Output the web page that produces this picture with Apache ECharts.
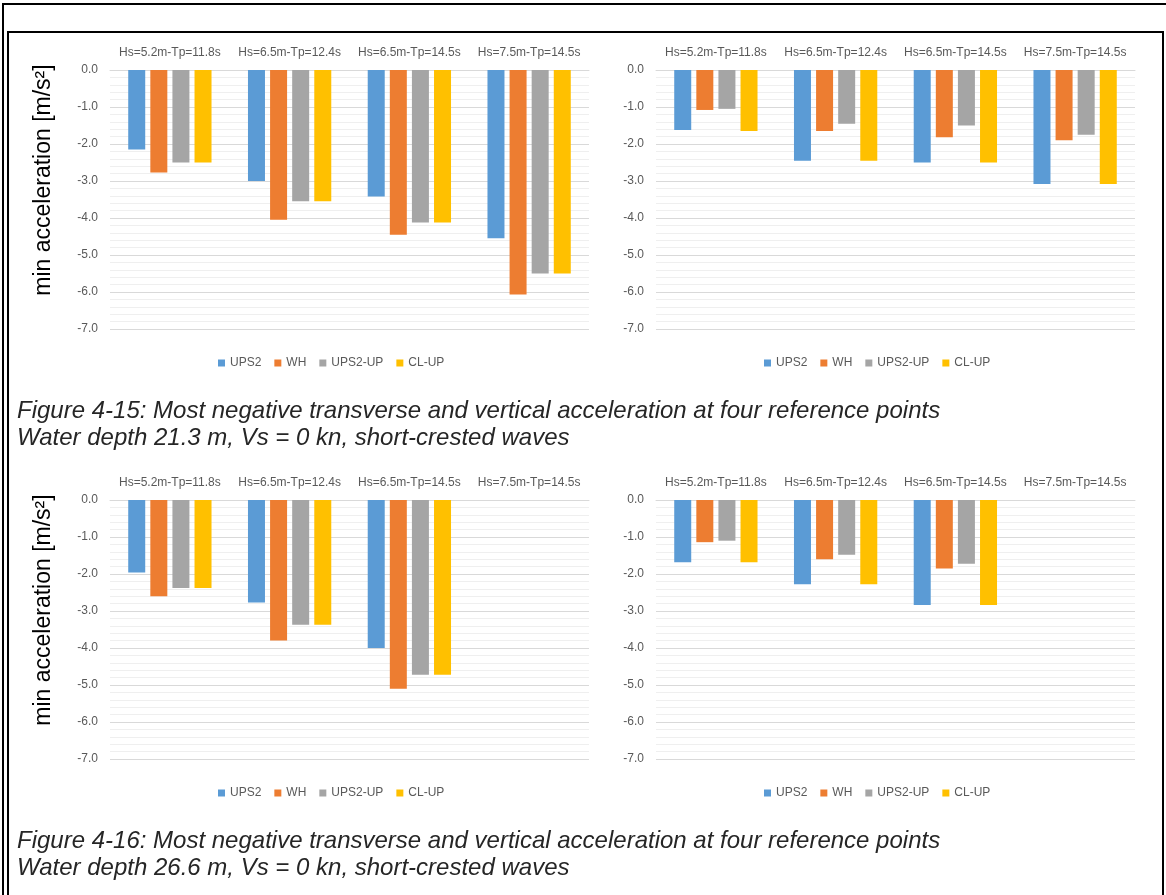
<!DOCTYPE html>
<html>
<head>
<meta charset="utf-8">
<script src="https://cdn.jsdelivr.net/npm/echarts@6/dist/echarts.min.js"></script>
<style>
  html, body { margin: 0; padding: 0; background: #fff; }
  #main { width: 1166px; height: 895px; }
</style>
</head>
<body>
<div id="main"></div>
<script>
// categories (sea states) and series names
const categories = ['Hs=5.2m-Tp=11.8s', 'Hs=6.5m-Tp=12.4s', 'Hs=6.5m-Tp=14.5s', 'Hs=7.5m-Tp=14.5s'];
const seriesNames = ['UPS2', 'WH', 'UPS2-UP', 'CL-UP'];
const seriesColors = ['#5B9BD5', '#ED7D31', '#A5A5A5', '#FFC000'];

// Figure 4-15, transverse (top left)
const f15TransUPS2 = [-2.15, -3.00, -3.42, -4.55];
const f15TransWH = [-2.77, -4.05, -4.45, -6.07];
const f15TransUPS2UP = [-2.50, -3.55, -4.12, -5.50];
const f15TransCLUP = [-2.50, -3.55, -4.12, -5.50];

// Figure 4-15, vertical (top right)
const f15VertUPS2 = [-1.62, -2.45, -2.50, -3.08];
const f15VertWH = [-1.08, -1.65, -1.82, -1.90];
const f15VertUPS2UP = [-1.05, -1.45, -1.50, -1.75];
const f15VertCLUP = [-1.65, -2.45, -2.50, -3.08];

// Figure 4-16, transverse (bottom left) - no result for last sea state
const f16TransUPS2 = [-1.96, -2.77, -4.00, '-'];
const f16TransWH = [-2.60, -3.80, -5.10, '-'];
const f16TransUPS2UP = [-2.38, -3.37, -4.72, '-'];
const f16TransCLUP = [-2.38, -3.37, -4.72, '-'];

// Figure 4-16, vertical (bottom right)
const f16VertUPS2 = [-1.68, -2.28, -2.84, '-'];
const f16VertWH = [-1.14, -1.60, -1.85, '-'];
const f16VertUPS2UP = [-1.10, -1.48, -1.72, '-'];
const f16VertCLUP = [-1.68, -2.28, -2.84, '-'];

const panels = [
  [f15TransUPS2, f15TransWH, f15TransUPS2UP, f15TransCLUP],
  [f15VertUPS2, f15VertWH, f15VertUPS2UP, f15VertCLUP],
  [f16TransUPS2, f16TransWH, f16TransUPS2UP, f16TransCLUP],
  [f16VertUPS2, f16VertWH, f16VertUPS2UP, f16VertCLUP]
];

const captions15 = ['Figure 4-15: Most negative transverse and vertical acceleration at four reference points',
  'Water depth 21.3 m, Vs = 0 kn, short-crested waves'];
const captions16 = ['Figure 4-16: Most negative transverse and vertical acceleration at four reference points',
  'Water depth 26.6 m, Vs = 0 kn, short-crested waves'];
const yName = 'min acceleration [m/s²]';

const FONT = '"Liberation Sans", Arial, sans-serif';
const gridPos = [
  { left: 110, top: 70 },
  { left: 656, top: 70 },
  { left: 110, top: 500 },
  { left: 656, top: 500 }
];

let grids = [], xAxes = [], yAxes = [], series = [], legends = [];
gridPos.forEach((g, i) => {
  grids.push({ left: g.left, top: g.top, width: 479, height: 259 });
  xAxes.push({
    gridIndex: i,
    type: 'category',
    position: 'top',
    data: categories,
    axisTick: { show: false },
    axisLine: { lineStyle: { color: '#d9d9d9' } },
    axisLabel: { color: '#595959', fontSize: 12, fontFamily: FONT, margin: 11, interval: 0 }
  });
  yAxes.push({
    gridIndex: i,
    type: 'value',
    min: -7,
    max: 0,
    interval: 1,
    axisLine: { show: false },
    axisTick: { show: false },
    axisLabel: {
      color: '#595959', fontSize: 12, fontFamily: FONT, margin: 12,
      formatter: v => v.toFixed(1)
    },
    splitLine: { lineStyle: { color: '#d9d9d9' } },
    minorTick: { show: false, splitNumber: 5 },
    minorSplitLine: { show: true, lineStyle: { color: '#efefef' } }
  });
  panels[i].forEach((arr, k) => {
    series.push({
      name: seriesNames[k],
      type: 'bar',
      xAxisIndex: i,
      yAxisIndex: i,
      barWidth: 17,
      barGap: '30%',
      itemStyle: { color: seriesColors[k] },
      data: arr
    });
  });
  legends.push({
    data: seriesNames,
    left: g.left + 103,
    top: g.top + 282,
    itemWidth: 7,
    itemHeight: 7,
    itemGap: 13,
    icon: 'rect',
    selectedMode: false,
    textStyle: { color: '#595959', fontSize: 12, fontFamily: FONT }
  });
});

const captionStyle = { fill: '#262626', font: 'italic 24px ' + FONT };
const graphics = [
  // outer frame and inner frame
  { type: 'rect', shape: { x: 3, y: 4, width: 1175, height: 910 }, style: { fill: 'none', stroke: '#000', lineWidth: 2 }, silent: true },
  { type: 'rect', shape: { x: 8, y: 32, width: 1155, height: 880 }, style: { fill: 'none', stroke: '#000', lineWidth: 2 }, silent: true },
  { type: 'text', x: 17, y: 411, style: Object.assign({ text: captions15[0], textVerticalAlign: 'middle' }, captionStyle) },
  { type: 'text', x: 17, y: 438, style: Object.assign({ text: captions15[1], textVerticalAlign: 'middle' }, captionStyle) },
  { type: 'text', x: 17, y: 841, style: Object.assign({ text: captions16[0], textVerticalAlign: 'middle' }, captionStyle) },
  { type: 'text', x: 17, y: 868, style: Object.assign({ text: captions16[1], textVerticalAlign: 'middle' }, captionStyle) }
];
[0, 2].forEach(i => {
  graphics.push({
    type: 'text',
    x: 44,
    y: gridPos[i].top + 110,
    rotation: Math.PI / 2,
    style: { text: yName, fill: '#000', font: '23px ' + FONT, textAlign: 'center', textVerticalAlign: 'middle' }
  });
});

const chart = echarts.init(document.getElementById('main'));
chart.setOption({
  backgroundColor: '#fff',
  animation: false,
  grid: grids,
  xAxis: xAxes,
  yAxis: yAxes,
  legend: legends,
  series: series,
  graphic: graphics
});
</script>
</body>
</html>
